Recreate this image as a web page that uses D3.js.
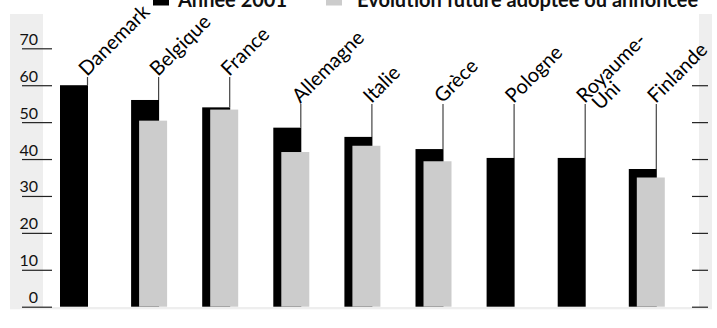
<!DOCTYPE html>
<html><head><meta charset="utf-8">
<script src="https://cdn.jsdelivr.net/npm/d3@7"></script>
<style>
html,body{margin:0;padding:0;background:#fff;}
svg{display:block;}
text{font-family:Lato,"Open Sans",sans-serif;}
</style></head>
<body>
<svg id="chart" width="717" height="328"></svg>
<script>
const categories = ["Danemark","Belgique","France","Allemagne","Italie","Grèce","Pologne","Royaume-Uni","Finlande"];
const labelLines = [["Danemark"],["Belgique"],["France"],["Allemagne"],["Italie"],["Grèce"],["Pologne"],["Royaume-","Uni"],["Finlande"]];
const year2001 = [60, 56, 54, 48.5, 46, 42.7, 40.3, 40.3, 37.3];
const future = [null, 50.4, 53.4, 41.9, 43.6, 39.4, null, null, 35];
const seriesNames = ["Année 2001", "Évolution future adoptée ou annoncée"];
const yTicks = [0, 10, 20, 30, 40, 50, 60, 70];
const yTicksRight = [0, 10, 20, 30, 40, 50, 60];

const svg = d3.select("#chart");
const y = d3.scaleLinear().domain([0, 70]).range([306.7, 48.3]);
const x = d3.scaleBand().domain(categories).range([60, 664.8]).paddingInner(0.4937).paddingOuter(0);
const bw = x.bandwidth();
const barW = bw * 28 / 36, off = bw * 8 / 36;

// side panels and base strip
svg.append("rect").attr("x", 10).attr("y", 14).attr("width", 33).attr("height", 295).attr("fill", "#eeeeee");
svg.append("rect").attr("x", 699).attr("y", 14).attr("width", 13).attr("height", 295).attr("fill", "#eeeeee");
svg.append("rect").attr("x", 10).attr("y", 307).attr("width", 702).attr("height", 2.3).attr("fill", "#eeeeee");

// left axis
const yl = svg.append("g").attr("transform", "translate(52,0)")
  .call(d3.axisLeft(y).tickValues(yTicks).tickSize(30).tickPadding(0).tickFormat(d3.format("d")));
yl.select(".domain").remove();
yl.selectAll(".tick line").attr("stroke", "#222").attr("stroke-width", 1.2);
yl.selectAll(".tick text").attr("x", -14).attr("dy", -4).attr("text-anchor", "end")
  .attr("font-size", 16).attr("fill", "#111").style("font-family", "Lato");

// right axis
const yr = svg.append("g").attr("transform", "translate(692,0)")
  .call(d3.axisRight(y).tickValues(yTicksRight).tickSize(16).tickFormat(""));
yr.select(".domain").remove();
yr.selectAll(".tick line").attr("stroke", "#222").attr("stroke-width", 1.2);

// bars
const rows = categories.map((c, i) => ({c, i, a: year2001[i], b: future[i]}));
svg.append("g").selectAll("rect").data(rows).join("rect")
  .attr("x", d => x(d.c)).attr("y", d => y(d.a)).attr("width", barW)
  .attr("height", d => y(0) - y(d.a)).attr("fill", "#000");
svg.append("g").selectAll("rect").data(rows.filter(d => d.b != null)).join("rect")
  .attr("x", d => x(d.c) + off).attr("y", d => y(d.b)).attr("width", barW)
  .attr("height", d => y(0) - y(d.b)).attr("fill", "#cccccc");

// leader lines and rotated labels
const labelTop = i => i < 3 ? 77 : 104;
svg.append("g").selectAll("line").data(rows).join("line")
  .attr("x1", d => x(d.c) + barW - 0.5).attr("x2", d => x(d.c) + barW - 0.5)
  .attr("y1", d => labelTop(d.i)).attr("y2", d => y(d.a))
  .attr("stroke", "#444").attr("stroke-width", 1.2);

const lab = svg.append("g").selectAll("text").data(rows).join("text")
  .attr("transform", d => `translate(${x(d.c) + barW - 1},${labelTop(d.i)}) rotate(-45)`)
  .style("font-size", "20px").attr("fill", "#000");
lab.each(function(d) {
  const t = d3.select(this);
  labelLines[d.i].forEach((s, k) => {
    t.append("tspan").attr("x", k ? 6 : 0).attr("dy", k ? 16 : 0).text(s);
  });
});

// legend (partly above the top edge, as in the original)
const leg = svg.append("g");
const legX = [153, 326], legTX = [178, 357];
leg.selectAll("rect").data(seriesNames).join("rect")
  .attr("x", (d, i) => legX[i]).attr("y", -10).attr("width", 16).attr("height", 15.5)
  .attr("fill", (d, i) => i ? "#cccccc" : "#000");
leg.selectAll("text").data(seriesNames).join("text")
  .attr("x", (d, i) => legTX[i]).attr("y", 7).style("font-size", "20px").attr("font-weight", "bold")
  .attr("fill", "#111").text(d => d);
</script>
</body></html>
